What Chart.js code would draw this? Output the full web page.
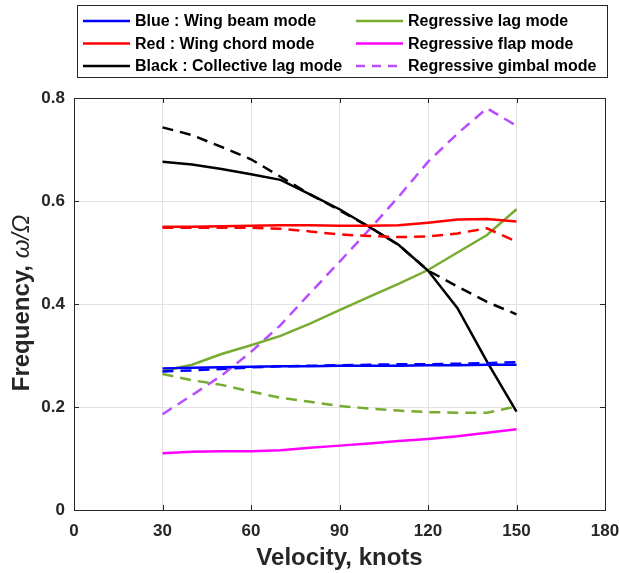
<!DOCTYPE html>
<html>
<head>
<meta charset="utf-8">
<script src="https://cdn.jsdelivr.net/npm/chart.js@4"></script>
<style>
    html, body { margin: 0; padding: 0; background: #fff; }
</style>
</head>
<body>
<canvas id="graficoModos" width="619" height="573"></canvas>
<script>
// data
const velocity = [30, 40, 50, 60, 70, 80, 90, 100, 110, 120, 130, 140, 150];
const beamSolid = [0.275, 0.276, 0.277, 0.278, 0.279, 0.279, 0.280, 0.280, 0.280, 0.281, 0.281, 0.282, 0.282];
const beamDashed = [0.269, 0.271, 0.274, 0.277, 0.279, 0.280, 0.281, 0.282, 0.283, 0.283, 0.284, 0.285, 0.287];
const chordSolid = [0.550, 0.550, 0.551, 0.552, 0.553, 0.553, 0.552, 0.552, 0.553, 0.558, 0.564, 0.565, 0.560];
const chordDashed = [0.548, 0.548, 0.548, 0.548, 0.546, 0.541, 0.535, 0.532, 0.530, 0.531, 0.537, 0.547, 0.521];
const collSolid = [0.676, 0.671, 0.662, 0.652, 0.641, 0.613, 0.584, 0.550, 0.515, 0.465, 0.392, 0.288, 0.191];
const collDashed = [0.743, 0.728, 0.705, 0.681, 0.647, 0.613, 0.582, 0.550, 0.515, 0.465, 0.434, 0.404, 0.380];
const lagSolid = [0.270, 0.282, 0.303, 0.320, 0.338, 0.362, 0.388, 0.414, 0.439, 0.466, 0.500, 0.534, 0.584];
const lagDashed = [0.264, 0.252, 0.243, 0.230, 0.218, 0.210, 0.202, 0.197, 0.193, 0.190, 0.189, 0.189, 0.201];
const flapSolid = [0.110, 0.113, 0.114, 0.114, 0.116, 0.121, 0.125, 0.129, 0.134, 0.138, 0.143, 0.150, 0.157];
const gimbalDashed = [0.186, 0.223, 0.261, 0.307, 0.359, 0.421, 0.482, 0.544, 0.608, 0.676, 0.731, 0.780, 0.746];

const legendLabels = ['Blue : Wing beam mode', 'Red : Wing chord mode', 'Black : Collective lag mode',
    'Regressive lag mode', 'Regressive flap mode', 'Regressive gimbal mode'];

const BLUE = '#0000ff', RED = '#ff0000', BLACK = '#000000';
const GREEN = '#77ac30', MAGENTA = '#ff00ff', PURPLE = '#b94cff';
const legendColors = [BLUE, RED, BLACK, GREEN, MAGENTA, PURPLE];
const DASH = [11, 7];
const TEXT = '#262626';
const FONT = '"Liberation Sans", Arial, sans-serif';

function serie(data, color, dashed) {
    return {
        data: data.map((v, i) => ({ x: velocity[i], y: v })),
        borderColor: color,
        borderWidth: 2.5,
        borderDash: dashed ? DASH : [],
        pointRadius: 0,
        fill: false,
        tension: 0
    };
}

// MATLAB style box, inward ticks, legend and y title
const extras = {
    id: 'extras',
    afterDraw(chart) {
        const ctx = chart.ctx;
        const a = chart.chartArea;
        const xs = chart.scales.x, ys = chart.scales.y;
        ctx.save();
        ctx.strokeStyle = TEXT;
        ctx.lineWidth = 1;
        ctx.setLineDash([]);
        ctx.strokeRect(Math.round(a.left) + 0.5, Math.round(a.top) + 0.5,
            Math.round(a.right - a.left), Math.round(a.bottom - a.top));
        ctx.beginPath();
        xs.ticks.forEach(t => {
            const x = Math.round(xs.getPixelForValue(t.value)) + 0.5;
            ctx.moveTo(x, a.bottom); ctx.lineTo(x, a.bottom - 5);
            ctx.moveTo(x, a.top); ctx.lineTo(x, a.top + 5);
        });
        ys.ticks.forEach(t => {
            const y = Math.round(ys.getPixelForValue(t.value)) + 0.5;
            ctx.moveTo(a.left, y); ctx.lineTo(a.left + 5, y);
            ctx.moveTo(a.right, y); ctx.lineTo(a.right - 5, y);
        });
        ctx.stroke();

        // legend
        ctx.fillStyle = '#fff';
        ctx.fillRect(77, 5, 530, 72);
        ctx.strokeStyle = TEXT;
        ctx.strokeRect(77.5, 5.5, 530, 72);
        ctx.font = 'bold 16px ' + FONT;
        ctx.textBaseline = 'middle';
        ctx.fillStyle = '#000';
        legendLabels.forEach((label, i) => {
            const col = Math.floor(i / 3), row = i % 3;
            const x0 = col === 0 ? 83 : 356;
            const y = 21 + row * 22.5;
            ctx.beginPath();
            ctx.strokeStyle = legendColors[i];
            ctx.lineWidth = 2.5;
            ctx.setLineDash(i === 5 ? [9, 7] : []);
            ctx.moveTo(x0, y); ctx.lineTo(x0 + 47, y);
            ctx.stroke();
            ctx.setLineDash([]);
            ctx.fillText(label, x0 + 52, y + 1);
        });

        // y title with italic symbols
        ctx.translate(22, 303);
        ctx.rotate(-Math.PI / 2);
        const boldFont = 'bold 24px ' + FONT;
        const italFont = 'italic 24px ' + FONT;
        ctx.font = boldFont;
        const w1 = ctx.measureText('Frequency, ').width;
        ctx.font = italFont;
        const w2 = ctx.measureText('ω/Ω').width;
        const start = -(w1 + w2) / 2;
        ctx.fillStyle = TEXT;
        ctx.textAlign = 'left';
        ctx.font = boldFont;
        ctx.fillText('Frequency, ', start, 0);
        ctx.font = italFont;
        ctx.fillText('ω/Ω', start + w1, 0);
        ctx.restore();
    }
};

document.addEventListener("DOMContentLoaded", function () {

    const lienzo = document.getElementById('graficoModos');

    new Chart(lienzo, {
        type: 'line',
        data: {
            datasets: [
                serie(beamSolid, BLUE, false),
                serie(beamDashed, BLUE, true),
                serie(chordSolid, RED, false),
                serie(chordDashed, RED, true),
                serie(collSolid, BLACK, false),
                serie(collDashed, BLACK, true),
                serie(lagSolid, GREEN, false),
                serie(lagDashed, GREEN, true),
                serie(flapSolid, MAGENTA, false),
                serie(gimbalDashed, PURPLE, true)
            ]
        },
        options: {
            responsive: false,
            animation: false,
            layout: {
                padding: { top: 98, right: 14, left: 0, bottom: 0 }
            },
            plugins: {
                legend: { display: false },
                tooltip: { enabled: false }
            },
            scales: {
                x: {
                    type: 'linear',
                    min: 0,
                    max: 180,
                    afterFit: s => { s.height = 63; s.paddingLeft = 0; s.paddingRight = 0; },
                    ticks: {
                        stepSize: 30,
                        padding: 11,
                        color: TEXT,
                        maxRotation: 0,
                        font: { family: FONT, size: 17, weight: 'bold' }
                    },
                    grid: { color: '#e3e3e3', drawTicks: false },
                    border: { display: false },
                    title: {
                        display: true,
                        text: 'Velocity, knots',
                        color: TEXT,
                        padding: { top: 0, bottom: 0 },
                        font: { family: FONT, size: 24, weight: 'bold' }
                    }
                },
                y: {
                    min: 0,
                    max: 0.8,
                    afterFit: s => { s.width = 74; s.paddingTop = 0; s.paddingBottom = 0; },
                    ticks: {
                        stepSize: 0.2,
                        padding: 9,
                        color: TEXT,
                        font: { family: FONT, size: 17, weight: 'bold' }
                    },
                    grid: { color: '#e3e3e3', drawTicks: false },
                    border: { display: false }
                }
            }
        },
        plugins: [extras]
    });

});
</script>
</body>
</html>
